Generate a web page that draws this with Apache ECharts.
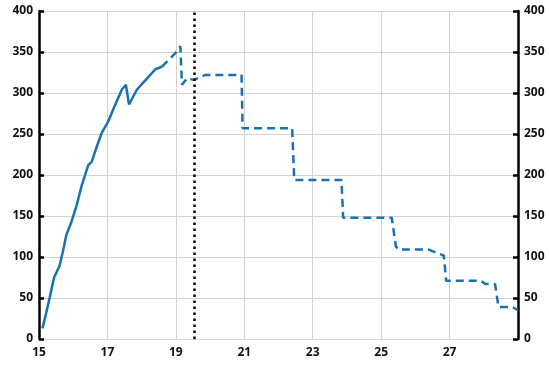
<!DOCTYPE html>
<html><head><meta charset="utf-8">
<script src="https://cdn.jsdelivr.net/npm/echarts@6/dist/echarts.min.js"></script>
<style>html,body{margin:0;padding:0;background:#fff}#c{width:549px;height:367px}</style>
</head><body><div id="c"></div>
<script>
const solidX = [15.10,15.20,15.31,15.44,15.60,15.70,15.80,15.95,16.10,16.24,16.44,16.54,16.70,16.83,17.02,17.22,17.42,17.54,17.63,17.86,18.01,18.10,18.25,18.40,18.59];
const solidY = [13,30,50,75,89,107,127,143,163,186,212,216,236,251,265,285,304,310,286,304,311,315,322,329,332];
const dashX = [18.59,19.04,19.13,19.18,19.33,19.52,19.87,20.92,20.95,22.40,22.46,23.84,23.89,25.31,25.43,25.51,26.39,26.68,26.83,26.90,27.91,28.05,28.33,28.43,28.84,29.00];
const dashY = [332,351,357,310,318,316,322,322,257,257,194,194,148,148,113,109,109,104,102,71,71,67,67,39,39,35];
const markerX = [19.53];
const yTicks = [0,50,100,150,200,250,300,350,400];
const xTicks = [15,17,19,21,23,25,27];

const pair = (xs, ys) => xs.map((x, i) => [x, ys[i]]);
const blue = '#1b71b0';
const labelFont = {fontFamily: 'Open Sans', fontWeight: 'bold', fontSize: 12, color: '#111'};
const chart = echarts.init(document.getElementById('c'), null, {renderer: 'canvas'});
chart.setOption({
  animation: false,
  grid: {left: 39, right: 31, top: 11, bottom: 28, containLabel: false},
  xAxis: {
    type: 'value', min: 15, max: 29, interval: 2,
    axisLine: {show: false}, axisTick: {show: false},
    axisLabel: Object.assign({margin: 8, formatter: v => xTicks.includes(v) ? String(v) : ''}, labelFont),
    splitLine: {show: true, lineStyle: {color: '#d3d3d3', width: 1}}
  },
  yAxis: [
    {type: 'value', min: yTicks[0], max: yTicks[yTicks.length-1], interval: 50, position: 'left',
     axisLine: {show: true, lineStyle: {color: '#000', width: 2.5}},
     axisTick: {show: true, inside: true, length: 5, lineStyle: {color: '#000', width: 2.5}},
     axisLabel: Object.assign({margin: 6}, labelFont),
     splitLine: {show: true, lineStyle: {color: '#d3d3d3', width: 1}}},
    {type: 'value', min: yTicks[0], max: yTicks[yTicks.length-1], interval: 50, position: 'right',
     axisLine: {show: true, lineStyle: {color: '#000', width: 2.5}},
     axisTick: {show: true, inside: true, length: 5, lineStyle: {color: '#000', width: 2.5}},
     axisLabel: Object.assign({margin: 6}, labelFont),
     splitLine: {show: false}}
  ],
  series: [
    {type: 'line', data: pair(solidX, solidY), showSymbol: false, symbol: 'none',
     lineStyle: {color: blue, width: 2.5}, z: 3},
    {type: 'line', data: pair(dashX, dashY), showSymbol: false, symbol: 'none',
     lineStyle: {color: blue, width: 2.5, type: [8, 5]}, z: 3,
     markLine: {silent: true, symbol: 'none', label: {show: false},
       lineStyle: {color: '#000', width: 2.5, type: [2.5, 3.5]},
       data: markerX.map(x => ({xAxis: x}))}}
  ]
});
</script></body></html>
